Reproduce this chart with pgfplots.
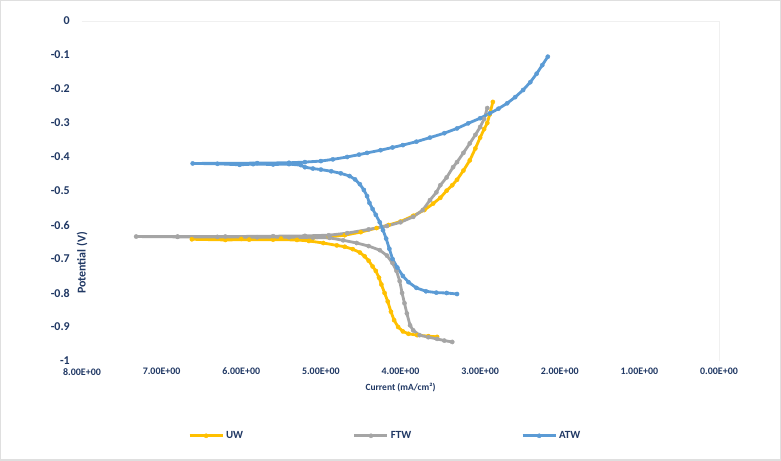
\documentclass[border=0pt]{standalone}
\usepackage{fontspec}
\setmainfont{Carlito}
\usepackage{pgfplots}
\pgfplotsset{compat=1.18}
\definecolor{txt}{RGB}{32,56,100}
\definecolor{uw}{RGB}{255,192,0}
\definecolor{ftw}{RGB}{165,165,165}
\definecolor{atw}{RGB}{91,155,213}
\begin{document}
\begin{tikzpicture}[x=1bp,y=1bp]
\fill[white] (0,0) rectangle (781,461);
\draw[gray!25, line width=1.5bp] (0.75,0.75) rectangle (780.25,460.25);
\begin{axis}[
  at={(82bp,100bp)}, anchor=south west, scale only axis,
  width=637bp, height=340bp,
  xmin=0, xmax=8, ymin=-1, ymax=0, x dir=reverse,
  xtick={0,1,2,3,4,5,6,7,8},
  xticklabels={0.00E+00,1.00E+00,2.00E+00,3.00E+00,4.00E+00,5.00E+00,6.00E+00,7.00E+00,8.00E+00},
  ytick={-1,-0.9,-0.8,-0.7,-0.6,-0.5,-0.4,-0.3,-0.2,-0.1,0},
  yticklabels={-1,-0.9,-0.8,-0.7,-0.6,-0.5,-0.4,-0.3,-0.2,-0.1,0},
  axis line style={draw=none}, major tick length=0,
  xticklabel style={font=\bfseries\fontsize{10}{12}\selectfont, text=txt, inner sep=0pt, anchor=north, yshift=-7bp},
  yticklabel style={font=\bfseries\fontsize{12}{14}\selectfont, text=txt, inner sep=0pt, anchor=east, xshift=-12bp},
  xlabel={Current (mA/cm²)},
  xlabel style={font=\bfseries\fontsize{9.5}{11}\selectfont, text=txt, at={(axis description cs:0.5,0)}, anchor=center, yshift=-27bp},
  ylabel={Potential (V)},
  ylabel style={font=\bfseries\fontsize{12}{14}\selectfont, text=txt, at={(axis description cs:0,0.456)}, anchor=center, rotate=0, xshift=-57bp},
  legend columns=3,
  legend style={at={(0.476,-0.22)}, anchor=center, draw=none, fill=none, inner sep=0pt,
    font=\bfseries\fontsize{11}{13}\selectfont, text=txt,
    /tikz/every even column/.append style={column sep=108bp}},
  legend image code/.code={\draw[mark repeat=2,mark phase=2,#1] plot coordinates {(0bp,0bp) (16.5bp,0bp) (33bp,0bp)};},
  every axis plot/.append style={line width=2.8bp, mark=*, mark size=2.1bp},
  clip=false,
]
\draw[gray!12, line width=0.8bp] (axis cs:8,0) -- (axis cs:0,0) -- (axis cs:0,-1);
\addplot[color=uw, mark options={solid, fill=uw, draw=uw, line width=0.4bp}] table {
x y
3.54 -0.929
3.65 -0.927
3.79 -0.924
3.90 -0.920
3.97 -0.913
4.03 -0.900
4.08 -0.880
4.12 -0.855
4.16 -0.825
4.20 -0.800
4.24 -0.775
4.27 -0.755
4.31 -0.735
4.35 -0.722
4.40 -0.705
4.45 -0.692
4.51 -0.681
4.60 -0.671
4.70 -0.664
4.80 -0.660
4.97 -0.653
5.15 -0.647
5.30 -0.644
5.60 -0.643
5.90 -0.643
6.20 -0.644
6.62 -0.642
6.00 -0.641
5.50 -0.640
5.10 -0.638
4.90 -0.635
4.70 -0.630
4.50 -0.621
4.30 -0.609
4.15 -0.600
4.00 -0.590
3.84 -0.573
3.70 -0.556
3.59 -0.537
3.50 -0.520
3.42 -0.499
3.35 -0.483
3.29 -0.467
3.21 -0.440
3.13 -0.410
3.06 -0.375
3.00 -0.343
2.95 -0.318
2.91 -0.300
2.88 -0.275
2.84 -0.238
};
\addlegendentry{UW}
\addplot[color=ftw, mark options={solid, fill=ftw, draw=ftw, line width=0.4bp}] table {
x y
3.35 -0.944
3.45 -0.940
3.54 -0.935
3.65 -0.930
3.76 -0.924
3.84 -0.910
3.88 -0.895
3.92 -0.860
3.95 -0.830
3.98 -0.800
4.01 -0.765
4.05 -0.735
4.10 -0.712
4.17 -0.690
4.26 -0.674
4.40 -0.662
4.55 -0.653
4.72 -0.645
4.89 -0.638
5.10 -0.637
5.40 -0.636
5.80 -0.636
6.30 -0.635
6.80 -0.635
7.32 -0.634
6.80 -0.634
6.20 -0.634
5.60 -0.633
5.20 -0.632
4.90 -0.630
4.67 -0.624
4.40 -0.613
4.17 -0.603
4.00 -0.592
3.84 -0.576
3.72 -0.556
3.63 -0.527
3.55 -0.504
3.50 -0.483
3.42 -0.460
3.34 -0.430
3.29 -0.415
3.21 -0.388
3.13 -0.360
3.06 -0.335
3.00 -0.312
2.95 -0.288
2.91 -0.256
};
\addlegendentry{FTW}
\addplot[color=atw, mark options={solid, fill=atw, draw=atw, line width=0.4bp}] table {
x y
3.29 -0.803
3.42 -0.800
3.55 -0.799
3.68 -0.795
3.80 -0.785
3.90 -0.768
3.97 -0.750
4.04 -0.725
4.10 -0.700
4.14 -0.670
4.18 -0.640
4.22 -0.615
4.26 -0.592
4.31 -0.570
4.35 -0.553
4.39 -0.535
4.42 -0.515
4.46 -0.497
4.51 -0.480
4.57 -0.466
4.64 -0.456
4.75 -0.448
4.87 -0.442
5.00 -0.437
5.10 -0.434
5.20 -0.430
5.25 -0.424
5.40 -0.421
5.60 -0.422
5.85 -0.421
6.02 -0.423
6.30 -0.420
6.61 -0.419
5.80 -0.418
5.40 -0.417
5.20 -0.415
5.00 -0.412
4.85 -0.407
4.67 -0.400
4.52 -0.393
4.42 -0.388
4.25 -0.380
4.10 -0.372
3.97 -0.365
3.80 -0.355
3.63 -0.343
3.45 -0.330
3.29 -0.316
3.15 -0.301
3.00 -0.286
2.88 -0.272
2.77 -0.258
2.66 -0.242
2.56 -0.224
2.46 -0.203
2.37 -0.180
2.29 -0.155
2.22 -0.130
2.15 -0.105
};
\addlegendentry{ATW}
\end{axis}
\end{tikzpicture}
\end{document}
